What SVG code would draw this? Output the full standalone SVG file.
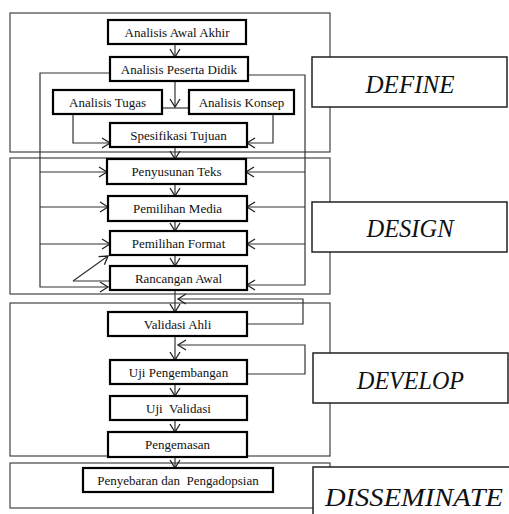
<svg xmlns="http://www.w3.org/2000/svg" width="509" height="514" viewBox="0 0 509 514">
<defs>
<marker id="arr" markerUnits="userSpaceOnUse" markerWidth="12" markerHeight="12" viewBox="-10 -6 12 12" refX="0" refY="0" orient="auto">
<path d="M-8,-5 L0,0 L-8,5" fill="none" stroke="#222" stroke-width="1.3"/>
</marker>
<style>
.sec{fill:none;stroke:#444;stroke-width:1.2}
.lab{fill:#fff;stroke:#222;stroke-width:1.5}
.labt{font-family:"Liberation Serif",serif;font-style:italic;font-size:26px;fill:#111;text-anchor:middle}
.box{fill:#fff;stroke:#000;stroke-width:2.2}
.t{font-family:"Liberation Serif",serif;font-size:13px;fill:#111;text-anchor:middle}
.c{fill:none;stroke:#333;stroke-width:1.2}
.ca{fill:none;stroke:#333;stroke-width:1.2;marker-end:url(#arr)}
</style>
</defs>
<rect width="509" height="514" fill="#fff"/>
<g id="sections">
<rect class="sec" x="10" y="13" width="320" height="139"/>
<rect class="sec" x="10" y="158" width="320" height="136"/>
<rect class="sec" x="10" y="303" width="320" height="153"/>
<rect class="sec" x="10" y="463" width="320" height="45"/>
</g>
<g id="connectors">
<path class="ca" d="M175,44 V57"/>
<path class="ca" d="M175,81 V107"/>
<path class="c" d="M162,108 H189"/>
<path class="ca" d="M73,114 V143 H110"/>
<path class="ca" d="M273,114 V143 H247"/>
<path class="ca" d="M175,147 V159"/>
<path class="ca" d="M110,73 H40 V287 H108"/>
<path class="ca" d="M40,172 H107"/>
<path class="ca" d="M40,207 H108"/>
<path class="ca" d="M40,244 H110"/>
<path class="ca" d="M248,75 H305 V285 H247"/>
<path class="ca" d="M305,172 H246"/>
<path class="ca" d="M305,207 H247"/>
<path class="ca" d="M305,244 H247"/>
<path class="ca" d="M175,184 V196"/>
<path class="ca" d="M175,221 V231"/>
<path class="ca" d="M175,255 V266"/>
<path class="c" d="M110,281 H73"/>
<path class="ca" d="M73,281 L108,256"/>
<path class="ca" d="M175,290 V312"/>
<path class="ca" d="M247,324 H303 V299 H178"/>
<path class="ca" d="M175,336 V360"/>
<path class="ca" d="M247,374 H305 V345 H178"/>
<path class="ca" d="M175,384 V396"/>
<path class="ca" d="M175,420 V432"/>
<path class="ca" d="M175,457 V468"/>
</g>
<g id="n1"><rect class="box" x="108" y="20" width="138" height="24"/><text class="t" x="177" y="36.5">Analisis Awal Akhir</text></g>
<g id="n2"><rect class="box" x="110" y="57" width="138" height="24"/><text class="t" x="179" y="73.5">Analisis Peserta Didik</text></g>
<g id="n3"><rect class="box" x="53" y="90" width="109" height="24"/><text class="t" x="107.5" y="106.5">Analisis Tugas</text></g>
<g id="n4"><rect class="box" x="189" y="90" width="105" height="24"/><text class="t" x="241.5" y="106.5">Analisis Konsep</text></g>
<g id="n5"><rect class="box" x="110" y="123" width="137" height="24"/><text class="t" x="178.5" y="139.5">Spesifikasi Tujuan</text></g>
<g id="n6"><rect class="box" x="107" y="159" width="139" height="25"/><text class="t" x="176.5" y="176">Penyusunan Teks</text></g>
<g id="n7"><rect class="box" x="108" y="196" width="139" height="25"/><text class="t" x="177.5" y="213">Pemilihan Media</text></g>
<g id="n8"><rect class="box" x="110" y="231" width="137" height="24"/><text class="t" x="178.5" y="247.5">Pemilihan Format</text></g>
<g id="n9"><rect class="box" x="110" y="266" width="137" height="24"/><text class="t" x="178.5" y="282.5">Rancangan Awal</text></g>
<g id="n10"><rect class="box" x="108" y="312" width="139" height="24"/><text class="t" x="177.5" y="328.5">Validasi Ahli</text></g>
<g id="n11"><rect class="box" x="110" y="360" width="137" height="24"/><text class="t" x="178.5" y="376.5">Uji Pengembangan</text></g>
<g id="n12"><rect class="box" x="110" y="396" width="137" height="24"/><text class="t" x="178.5" y="412.5" xml:space="preserve">Uji  Validasi</text></g>
<g id="n13"><rect class="box" x="108" y="432" width="139" height="25"/><text class="t" x="177.5" y="449">Pengemasan</text></g>
<g id="n14"><rect class="box" x="83" y="468" width="190" height="24"/><text class="t" x="178" y="484.5" xml:space="preserve">Penyebaran dan  Pengadopsian</text></g>
<g id="define"><rect class="lab" x="312" y="57" width="195" height="50"/><text class="labt" x="410" y="93" textLength="89" lengthAdjust="spacingAndGlyphs">DEFINE</text></g>
<g id="design"><rect class="lab" x="312" y="202" width="195" height="50"/><text class="labt" x="410" y="237" textLength="87" lengthAdjust="spacingAndGlyphs">DESIGN</text></g>
<g id="develop"><rect class="lab" x="313" y="353" width="195" height="50"/><text class="labt" x="410.5" y="389" textLength="107" lengthAdjust="spacingAndGlyphs">DEVELOP</text></g>
<g id="disseminate"><rect class="lab" x="313" y="467" width="200" height="60" stroke-width="2"/><text class="labt" x="414" y="506" textLength="178" lengthAdjust="spacingAndGlyphs">DISSEMINATE</text></g>
</svg>
